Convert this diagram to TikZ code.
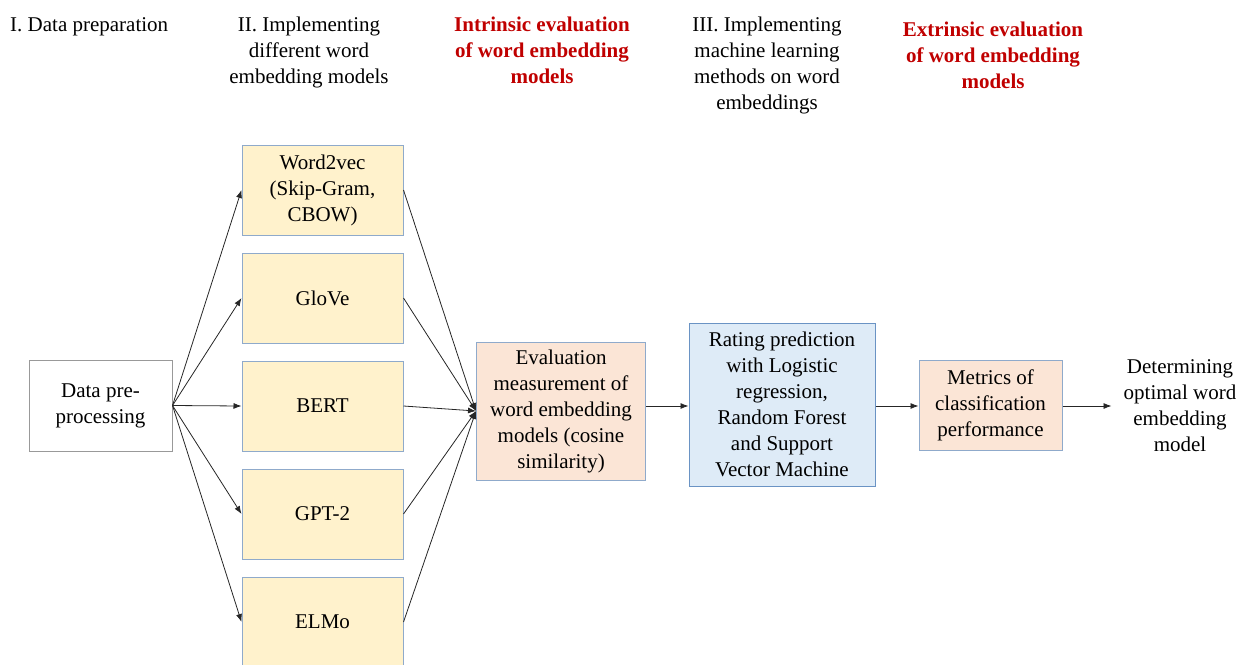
\documentclass[tikz,border=0pt]{standalone}
\usepackage{fontspec}
\setmainfont{Liberation Serif}
\usetikzlibrary{arrows.meta}
\definecolor{modelfill}{HTML}{FFF2CC}
\definecolor{evalfill}{HTML}{FBE5D6}
\definecolor{mlfill}{HTML}{DEEBF7}
\definecolor{boxline}{HTML}{8FAACB}
\definecolor{mlline}{HTML}{6A93C4}
\definecolor{headred}{HTML}{C00000}
\tikzset{
  every node/.style={font=\fontsize{21}{26}\selectfont, align=center, inner sep=0pt},
  box/.style={draw=boxline, line width=1pt, minimum width=#1},
  box/.default=161pt,
  modelbox/.style={box, fill=modelfill, minimum height=90pt},
  head/.style={anchor=north},
  redhead/.style={head, text=headred, font=\fontsize{21}{26}\selectfont\bfseries},
  link/.style={line width=0.8pt, draw=black!85, -{Latex[length=8pt,width=6pt]}},
}
\begin{document}
\begin{tikzpicture}[x=1pt,y=-1pt]
\useasboundingbox (0,0) rectangle (1241,664);

% column headings
\node[anchor=north west] (h1) at (10,17) {I. Data preparation};
\node[head] (h2) at (309,17) {II. Implementing\\different word\\embedding models};
\node[redhead] (h3) at (542,17) {Intrinsic evaluation\\of word embedding\\models};
\node[head] (h4) at (767,17) {III. Implementing\\machine learning\\methods on word\\embeddings};
\node[redhead] (h5) at (993,22) {Extrinsic evaluation\\of word embedding\\models};

% input
\node[draw=gray!80, line width=1pt, fill=white, minimum width=143pt, minimum height=91pt] (prep) at (100.5,405.5) {Data pre-\\processing};

% word embedding models
\node[modelbox] (w2v) at (322.5,190) {Word2vec\\(Skip-Gram,\\CBOW)};
\node[modelbox] (glove) at (322.5,298) {GloVe};
\node[modelbox] (bert) at (322.5,406) {BERT};
\node[modelbox] (gpt) at (322.5,514) {GPT-2};
\node[modelbox] (elmo) at (322.5,622) {ELMo};

% evaluation and classification
\node[box=169pt, fill=evalfill, minimum height=138pt] (eval) at (561,411) {Evaluation\\measurement of\\word embedding\\models (cosine\\similarity)};
\node[draw=mlline, line width=1pt, fill=mlfill, minimum width=186pt, minimum height=163pt] (ml) at (782,404.5) {Rating prediction\\with Logistic\\regression,\\Random Forest\\and Support\\Vector Machine};
\node[box=143pt, fill=evalfill, minimum height=90pt] (metric) at (990.5,405.5) {Metrics of\\classification\\performance};
\node[inner xsep=12pt] (result) at (1180,406) {Determining\\optimal word\\embedding\\model};

% connectors
\foreach \m in {w2v,glove,bert,gpt,elmo}{
  \draw[link] (prep.east) -- (\m.west);
  \draw[link] (\m.east) -- (eval.west);
}
\draw[link] (eval.east |- 0,406) -- (ml.west |- 0,406);
\draw[link] (ml.east |- 0,406) -- (metric.west |- 0,406);
\draw[link] (metric.east |- 0,406) -- (result.west |- 0,406);
\end{tikzpicture}
\end{document}
